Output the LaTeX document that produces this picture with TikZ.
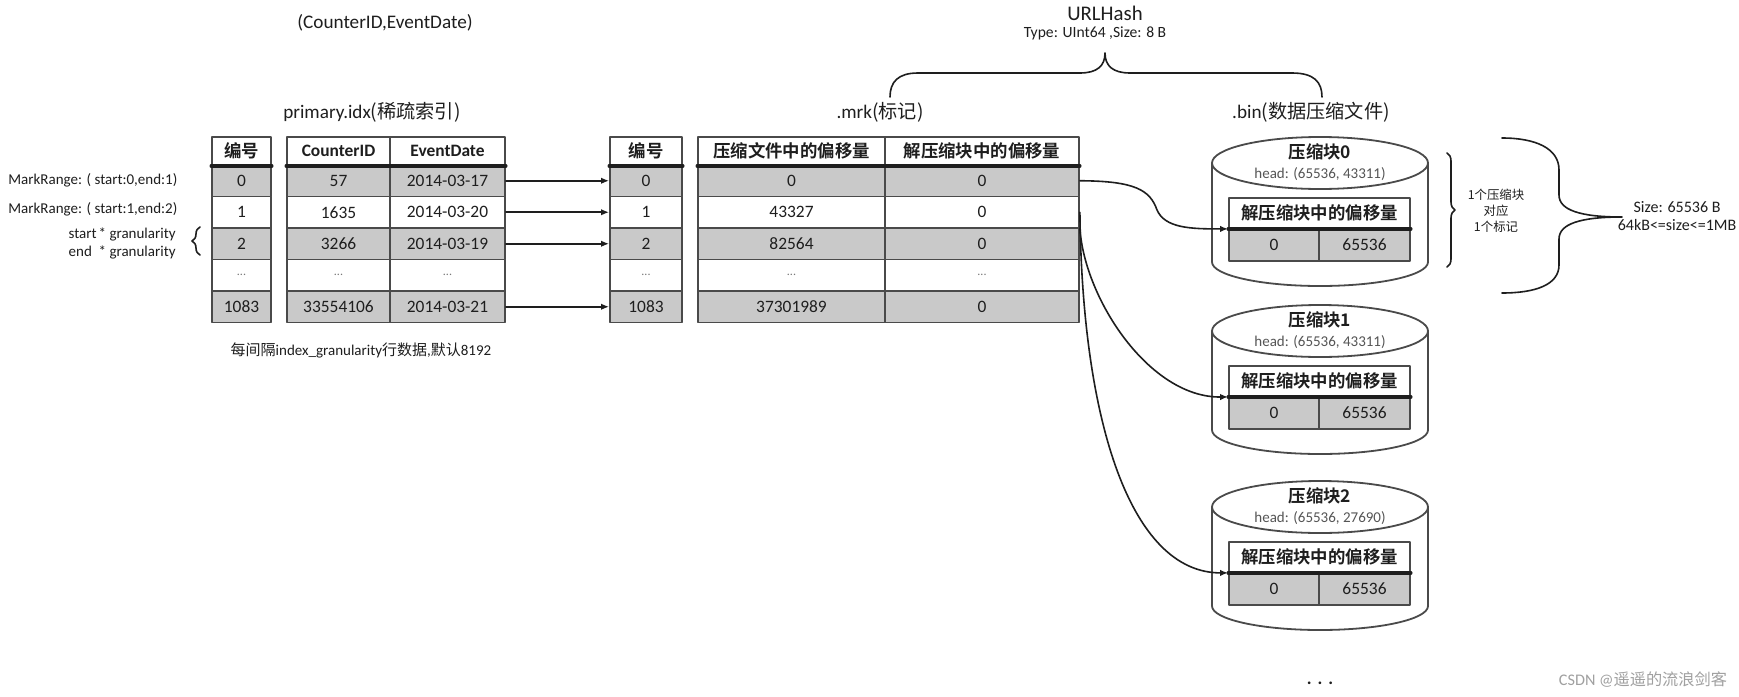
\documentclass[tikz,border=0pt]{standalone}
\usepackage{fontspec}
\setmainfont{Carlito}
\newfontfamily\zh{Noto Sans CJK SC}[BoldFont={Noto Sans CJK SC Bold}]
\usepackage{xcolor}
\usepackage{tikz}
\usetikzlibrary{arrows.meta, decorations.pathreplacing}

\definecolor{ink}{HTML}{1E1E1E}
\definecolor{linec}{HTML}{4A4A4A}
\definecolor{rowgray}{HTML}{C9C9C9}
\definecolor{txtgray}{HTML}{555555}
\definecolor{dotgray}{HTML}{777777}
\definecolor{markgray}{HTML}{A0A0A0}
\newcommand{\rowdots}{{\fontsize{6}{6}\selectfont\color{dotgray}...}}

\begin{document}
\begin{tikzpicture}[x=0.5pt, y=-0.5pt, line cap=round, line join=round,
	cell/.style={draw=linec, line width=0.9pt, inner sep=0pt, text=ink, font=\fontsize{8.7}{10}\selectfont},
	hcell/.style={cell, font=\fontsize{8.7}{10}\selectfont\bfseries},
	headline/.style={draw=ink, line width=1.6pt},
	ptr/.style={draw=ink, line width=0.8pt, -{Latex[length=4pt,width=3.2pt]}},
	lbl/.style={text=ink, inner sep=0pt, font=\fontsize{7.5}{9}\selectfont},
	ttl/.style={text=ink, inner sep=0pt, font=\fontsize{9.6}{11}\selectfont},
	cyl/.style={draw=linec, line width=0.9pt, fill=white},
	brc/.style={draw=ink, line width=0.8pt}]
	\fill[white] (0,0) rectangle (1739,696);
	\useasboundingbox (0,0) rectangle (1739,696);

	\node[ttl] (key-title) at (385,23) {(CounterID,EventDate)};
	\node[ttl, font=\fontsize{10.4}{12}\selectfont] (url-name) at (1105,13) {URLHash};
	\node[lbl, font=\fontsize{7.8}{9}\selectfont] (url-type) at (1095,33) {Type: UInt64 ,Size: 8 B};
	\node[ttl] (idx-title) at (372,112) {primary.idx{\zh(稀疏索引)}};
	\node[ttl] (mrk-title) at (880,112) {.mrk{\zh(标记)}};
	\node[ttl] (bin-title) at (1311,112) {.bin{\zh(数据压缩文件)}};

	\node[hcell, minimum width=29.5pt, minimum height=14pt] (pnum-h) at (241.5,151) {\zh 编号};
	\node[hcell, minimum width=51.5pt, minimum height=14pt] (cid-h) at (338.5,151) {CounterID};
	\node[hcell, minimum width=57.5pt, minimum height=14pt] (date-h) at (447.5,151) {EventDate};
	\node[hcell, minimum width=36pt, minimum height=14pt] (mnum-h) at (646,151) {\zh 编号};
	\node[hcell, minimum width=93.5pt, minimum height=14pt] (moff-h) at (791.5,151) {\zh 压缩文件中的偏移量};
	\node[hcell, minimum width=97pt, minimum height=14pt] (mblk-h) at (982,151) {\zh 解压缩块中的偏移量};

	\foreach \n/\a/\b/\f [count=\i] in {0/57/2014-03-17/rowgray, 1/1635/2014-03-20/white, 2/3266/2014-03-19/rowgray, \rowdots/\rowdots/\rowdots/white, 1083/33554106/2014-03-21/rowgray}{
		\node[cell, fill=\f, minimum width=29.5pt, minimum height=15.75pt] (pnum-\i) at (241.5,{149.25+31.5*\i}) {\n};
		\node[cell, fill=\f, minimum width=51.5pt, minimum height=15.75pt] (cid-\i) at (338.5,{149.25+31.5*\i}) {\a};
		\node[cell, fill=\f, minimum width=57.5pt, minimum height=15.75pt] (date-\i) at (447.5,{149.25+31.5*\i}) {\b};
	}
	\foreach \n/\a/\b/\f [count=\i] in {0/0/0/rowgray, 1/43327/0/white, 2/82564/0/rowgray, \rowdots/\rowdots/\rowdots/white, 1083/37301989/0/rowgray}{
		\node[cell, fill=\f, minimum width=36pt, minimum height=15.75pt] (mnum-\i) at (646,{149.25+31.5*\i}) {\n};
		\node[cell, fill=\f, minimum width=93.5pt, minimum height=15.75pt] (moff-\i) at (791.5,{149.25+31.5*\i}) {\a};
		\node[cell, fill=\f, minimum width=97pt, minimum height=15.75pt] (mblk-\i) at (982,{149.25+31.5*\i}) {\b};
	}
	\draw[headline] (pnum-h.south west) -- (pnum-h.south east);
	\draw[headline] (cid-h.south west) -- (date-h.south east);
	\draw[headline] (mnum-h.south west) -- (mnum-h.south east);
	\draw[headline] (moff-h.south west) -- (mblk-h.south east);

	\foreach \i in {1,2,3,5}
		\draw[ptr] (date-\i.east) -- (mnum-\i.west);

	\node[lbl, anchor=west] (range-0) at (8,180) {MarkRange: ( start:0,end:1)};
	\node[lbl, anchor=west] (range-1) at (8,209) {MarkRange: ( start:1,end:2)};
	\node[lbl, anchor=east, align=left] (gran) at (176,243) {\makebox[2em][l]{start}* granularity\\\makebox[2em][l]{end}* granularity};
	\draw[brc, decorate, decoration={brace, amplitude=4pt}] (200,255) -- (200,227);
	\node[lbl] (note) at (361,350) {{\zh 每间隔}index\_granularity{\zh 行数据},{\zh 默认}8192};

	\foreach \k/\dy/\hd in {0/0/{65536, 43311}, 1/168/{65536, 43311}, 2/344/{65536, 27690}}{
		\draw[cyl] (1212,{163+\dy}) -- (1212,{262+\dy}) arc[start angle=180, end angle=360, x radius=54pt, y radius=12pt] -- (1428,{163+\dy});
		\draw[cyl] (1320,{163+\dy}) ellipse [x radius=54pt, y radius=13pt];
		\node[text=ink, font=\fontsize{8.7}{10}\selectfont\bfseries\zh] (b\k-name) at (1320,{152+\dy}) {压缩块\k};
		\node[lbl, text=txtgray] (b\k-head) at (1320,{174+\dy}) {head: (\hd)};
		\node[hcell, minimum width=90.5pt, minimum height=15pt] (b\k-h) at (1319.5,{213+\dy}) {\zh 解压缩块中的偏移量};
		\node[cell, fill=rowgray, minimum width=45pt, minimum height=16.5pt] (b\k-l) at (1274,{244.5+\dy}) {0};
		\node[cell, fill=rowgray, minimum width=45.5pt, minimum height=16.5pt] (b\k-r) at (1364.5,{244.5+\dy}) {65536};
		\draw[headline] (b\k-h.south west) -- (b\k-h.south east);
	}

	\draw[ptr] (mblk-1.east) .. controls (1135,181) and (1150,190) .. (1157,210) .. controls (1165,228) and (1190,229) .. (b0-h.south west);
	\draw[ptr] (mblk-2.south east) .. controls (1085,300) and (1150,398) .. (b1-h.south west);
	\draw[ptr] (mblk-2.east) .. controls (1082,420) and (1130,573) .. (b2-h.south west);

	\draw[brc] (890,97) .. controls (890,82) and (898,73) .. (918,73) -- (1080,73) .. controls (1097,73) and (1105,66) .. (1105,53) .. controls (1105,66) and (1113,73) .. (1130,73) -- (1292,73) .. controls (1314,73) and (1322,82) .. (1322,97);
	\draw[brc, decorate, decoration={brace, amplitude=4pt}] (1447,153) -- (1447,267);
	\node[lbl, font=\fontsize{6.2}{8}\selectfont\zh, align=center] (blk-note) at (1496,211) {1个压缩块\\对应\\1个标记};
	\draw[brc] (1502,138) .. controls (1535,138) and (1559,148) .. (1559,170) -- (1559,195) .. controls (1559,210) and (1580,217) .. (1622,217) .. controls (1580,217) and (1559,224) .. (1559,239) -- (1559,265) .. controls (1559,285) and (1535,293) .. (1502,293);
	\node[lbl, font=\fontsize{8}{9.2}\selectfont, align=center] (size-note) at (1677,216) {Size: 65536 B\\64kB<=size<=1MB};

	\node[lbl, font=\fontsize{9}{10}\selectfont\bfseries] (more) at (1320,683) {.\hspace{3pt}.\hspace{3pt}.};
	\node[lbl, text=markgray, font=\fontsize{8.1}{10}\selectfont] (mark) at (1643,680) {CSDN @{\zh 遥遥的流浪剑客}};
\end{tikzpicture}
\end{document}
